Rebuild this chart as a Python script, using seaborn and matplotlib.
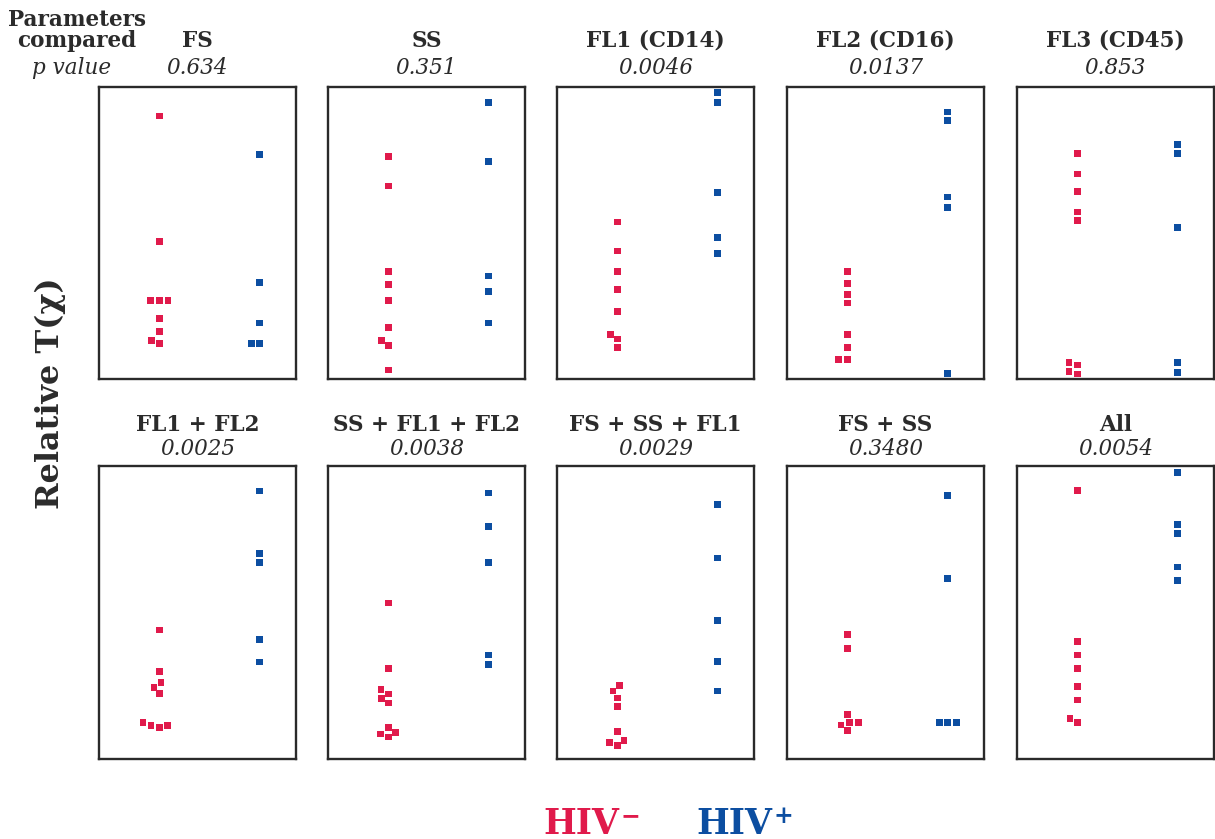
import matplotlib
matplotlib.use("Agg")
import matplotlib.pyplot as plt
from matplotlib.path import Path
import numpy as np
import pandas as pd
import seaborn as sns

# ---------------- data (relative T(chi), 0 = bottom of panel, 1 = top) -------------
groups = ["HIV\u2212", "HIV+"]
panel_titles = ["FS", "SS", "FL1 (CD14)", "FL2 (CD16)", "FL3 (CD45)",
                "FL1 + FL2", "SS + FL1 + FL2", "FS + SS + FL1", "FS + SS", "All"]
p_values = ["0.634", "0.351", "0.0046", "0.0137", "0.853",
            "0.0025", "0.0038", "0.0029", "0.3480", "0.0054"]

neg_fs = [0.901, 0.470, 0.269, 0.269, 0.269, 0.208, 0.162, 0.131, 0.122]
pos_fs = [0.770, 0.331, 0.192, 0.122, 0.122]

neg_ss = [0.762, 0.661, 0.369, 0.323, 0.269, 0.177, 0.131, 0.114, 0.031]
pos_ss = [0.946, 0.746, 0.353, 0.300, 0.192]

neg_fl1 = [0.538, 0.438, 0.367, 0.307, 0.230, 0.153, 0.137, 0.107]
pos_fl1 = [0.981, 0.946, 0.638, 0.485, 0.430]

neg_fl2 = [0.367, 0.328, 0.290, 0.260, 0.153, 0.107, 0.067, 0.067]
pos_fl2 = [0.914, 0.886, 0.623, 0.587, 0.019]

neg_fl3 = [0.773, 0.702, 0.641, 0.572, 0.542, 0.056, 0.048, 0.025, 0.017]
pos_fl3 = [0.804, 0.772, 0.519, 0.056, 0.022]

neg_fl1_fl2 = [0.440, 0.299, 0.261, 0.245, 0.223, 0.125, 0.115, 0.115, 0.108]
pos_fl1_fl2 = [0.915, 0.701, 0.670, 0.409, 0.331]

neg_ss_fl1_fl2 = [0.532, 0.309, 0.237, 0.222, 0.207, 0.191, 0.108, 0.091, 0.085, 0.075]
pos_ss_fl1_fl2 = [0.908, 0.793, 0.671, 0.355, 0.323]

neg_fs_ss_fl1 = [0.250, 0.232, 0.208, 0.178, 0.093, 0.063, 0.056, 0.045]
pos_fs_ss_fl1 = [0.869, 0.686, 0.472, 0.333, 0.232]

neg_fs_ss = [0.426, 0.378, 0.151, 0.124, 0.124, 0.116, 0.097]
pos_fs_ss = [0.900, 0.617, 0.124, 0.124, 0.124]

neg_all = [0.917, 0.401, 0.355, 0.310, 0.248, 0.201, 0.139, 0.124]
pos_all = [0.977, 0.801, 0.770, 0.655, 0.609]

neg_series = [neg_fs, neg_ss, neg_fl1, neg_fl2, neg_fl3,
              neg_fl1_fl2, neg_ss_fl1_fl2, neg_fs_ss_fl1, neg_fs_ss, neg_all]
pos_series = [pos_fs, pos_ss, pos_fl1, pos_fl2, pos_fl3,
              pos_fl1_fl2, pos_ss_fl1_fl2, pos_fs_ss_fl1, pos_fs_ss, pos_all]

# ---------------- style ----------------
RED = "#E01A4B"
BLUE = "#0C4EA1"
TXT = "#2b2b2b"
palette = {groups[0]: RED, groups[1]: BLUE}

sns.set_style("white")
plt.rcParams["font.family"] = ["DejaVu Serif", "DejaVu Sans"]

# square marker drawn a bit smaller than the swarm spacing (gap between squares)
h = 0.82
square = Path([(1, 1), (-h, -h), (h, -h), (h, h), (-h, h), (-h, -h)],
              [Path.MOVETO, Path.MOVETO, Path.LINETO, Path.LINETO,
               Path.LINETO, Path.CLOSEPOLY])

W, H = 1215, 839
fig = plt.figure(figsize=(W / 100, H / 100), dpi=100)
fig.patch.set_facecolor("white")

lefts = [99, 328, 557, 787, 1017]
box_w = 197
rows = [(87, 379), (466, 759)]          # top / bottom pixel of boxes
title_base = [47, 431]
p_base = [74, 455]


def fx(px):
    return px / W


def fy(py):
    return 1 - py / H


for i in range(10):
    r, c = divmod(i, 5)
    top, bot = rows[r]
    ax = fig.add_axes([fx(lefts[c]), fy(bot), fx(box_w), (bot - top) / H])
    df = pd.DataFrame({
        "group": [groups[0]] * len(neg_series[i]) + [groups[1]] * len(pos_series[i]),
        "value": list(neg_series[i]) + list(pos_series[i]),
    })
    sns.swarmplot(data=df, x="group", y="value", hue="group", order=groups,
                  hue_order=groups, palette=palette, marker=square, size=5.9,
                  linewidth=0, legend=False, ax=ax, clip_on=False)
    ax.set_xlim(-0.6, 1.36)
    ax.set_ylim(0, 1)
    ax.set_xticks([])
    ax.set_yticks([])
    ax.set_xlabel("")
    ax.set_ylabel("")
    for s in ax.spines.values():
        s.set_visible(True)
        s.set_color("#2a2a2a")
        s.set_linewidth(1.7)
    cx = fx(lefts[c] + box_w / 2)
    fig.text(cx, fy(title_base[r]), panel_titles[i], ha="center", va="baseline",
             fontsize=15.5, fontweight="bold", color=TXT)
    fig.text(cx, fy(p_base[r]), p_values[i], ha="center", va="baseline",
             fontsize=15.5, fontstyle="italic", color=TXT)

# header labels at left
fig.text(fx(77), fy(26), "Parameters", ha="center", va="baseline",
         fontsize=15.5, fontweight="bold", color=TXT)
fig.text(fx(77), fy(47), "compared", ha="center", va="baseline",
         fontsize=15.5, fontweight="bold", color=TXT)
fig.text(fx(72), fy(74), "p value", ha="center", va="baseline",
         fontsize=15.5, fontstyle="italic", color=TXT)

# y label
fig.text(fx(50), fy(393), "Relative T(\u03c7)", rotation=90, ha="center",
         va="center", fontsize=23, fontweight="bold", color=TXT)

# legend texts
t1 = fig.text(fx(543), fy(834), "HIV", ha="left", va="baseline",
              fontsize=25, fontweight="bold", color=RED)
t2 = fig.text(fx(696), fy(834), "HIV", ha="left", va="baseline",
              fontsize=25, fontweight="bold", color=BLUE)
for t, sign, col in [(t1, "\u2212", RED), (t2, "+", BLUE)]:
    fig.axes[0].annotate(sign, xy=(1, 1), xycoords=t, xytext=(1, 2),
                         textcoords="offset points", ha="left", va="top",
                         fontsize=17, fontweight="bold", color=col,
                         annotation_clip=False)

fig.savefig("out.png", dpi=100, facecolor="white")
